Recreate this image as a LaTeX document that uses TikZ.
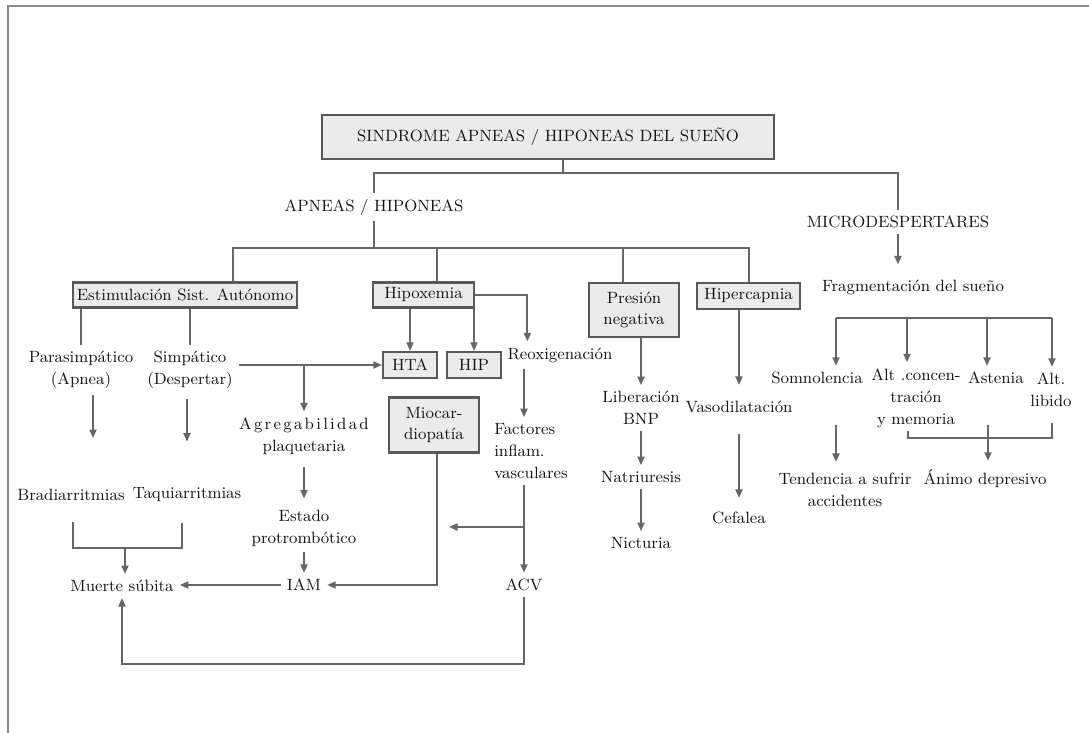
\documentclass[tikz,border=0pt]{standalone}
\usepackage{fontspec}
\usepackage{tikz}
\usetikzlibrary{calc,arrows.meta}

\begin{document}
\begin{tikzpicture}[x=0.02cm, y=-0.02cm,
	every node/.style={font=\fontsize{9.3}{12.5}\selectfont, text=black!92, align=center},
	box/.style={draw=black!65, fill=black!8, line width=1.3pt, inner sep=2pt},
	line/.style={draw=black!60, line width=1.1pt},
	arr/.style={line, -{Triangle[length=1.7mm,width=1.4mm]}}]
		%%%%% START %%%%%
		\useasboundingbox (0,0) rectangle (1089,733);
		\draw[black!45, line width=1.2pt] (8,733) -- (8,6) -- (1089,6);
		
		\node[box, minimum width=9.04cm, minimum height=0.88cm] (sahs) at (548,137) {SINDROME APNEAS / HIPONEAS DEL SUEÑO};
		\node (apneas) at (374,207) {APNEAS / HIPONEAS};
		\node (micro) at (898,222) {MICRODESPERTARES};
		
		\node[box, minimum width=4.48cm, minimum height=0.5cm] (estim) at (185,295) {Estimulación Sist. Autónomo};
		\node[box, minimum width=2.02cm, minimum height=0.5cm] (hipox) at (423.5,295) {Hipoxemia};
		\node[box, minimum width=1.8cm, minimum height=1.08cm] (presion) at (634,310) {Presión\\negativa};
		\node[box, minimum width=2.06cm, minimum height=0.52cm] (hiperc) at (748.5,296) {Hipercapnia};
		\node[box, minimum width=1.08cm, minimum height=0.52cm] (hta) at (410,365) {HTA};
		\node[box, minimum width=1.08cm, minimum height=0.52cm] (hip) at (474,365) {HIP};
		\node[box, minimum width=1.8cm, minimum height=1.1cm] (mioc) at (434,425) {Miocar-\\diopatía};
		
		\node (para) at (81,370) {Parasimpático\\(Apnea)};
		\node (simp) at (190,370) {Simpático\\(Despertar)};
		\node (bradi) at (71,495) {Bradiarritmias};
		\node (taqui) at (187,495) {Taquiarritmias};
		\node (muerte) at (122,586) {Muerte súbita};
		\node (agreg) at (304,436) {A\kern1.3pt g\kern1.3pt r\kern1.3pt e\kern1.3pt g\kern1.3pt a\kern1.3pt b\kern1.3pt i\kern1.3pt l\kern1.3pt i\kern1.3pt d\kern1.3pt a\kern1.3pt d\\plaquetaria};
		\node (estado) at (304,528) {Estado\\protrombótico};
		\node (iam) at (304,585) {IAM};
		\node (reox) at (560,355) {Reoxigenación};
		\node[align=left] (factores) at (531,451) {Factores\\inflam.\\vasculares};
		\node (acv) at (524,585) {ACV};
		
		\node (liber) at (641,408) {Liberación\\BNP};
		\node (natri) at (641,477) {Natriuresis};
		\node (nict) at (641,543) {Nicturia};
		\node (vaso) at (739,407) {Vasodilatación};
		\node (cefal) at (739,518) {Cefalea};
		
		\node (frag) at (913,287) {Fragmentación del sueño};
		\node (somno) at (817,378) {Somnolencia};
		\node (altc) at (916,398) {Alt .concen-\\tración\\y memoria};
		\node (asten) at (996,378) {Astenia};
		\node (altl) at (1051,390) {Alt.\\libido};
		\node (tend) at (845,490) {Tendencia a sufrir\\accidentes};
		\node (animo) at (985,479) {Ánimo depresivo};
		
		% top split
		\coordinate (jtop) at (563,173);
		\coordinate (jmic) at (898,173);
		\draw[line] (sahs.south -| jtop) -- (jtop);
		\draw[line] (apneas.north) |- (jmic) -- (micro.north);
		
		% apneas bar
		\coordinate (bl) at (233,248);
		\coordinate (bh) at (437,248);
		\coordinate (bp) at (623,248);
		\coordinate (br) at (749,248);
		\draw[line] (apneas.south) -- (apneas.south |- bl);
		\draw[line] (estim.north -| bl) -- (bl) -- (br) -- (hiperc.north -| br);
		\draw[line] (bh) -- (hipox.north -| bh);
		\draw[line] (bp) -- (presion.north -| bp);
		
		% autonomo
		\draw[line] (estim.south -| para) -- (para.north);
		\draw[line] (estim.south -| simp) -- (simp.north);
		\draw[arr] ($(para.south)+(12,0)$) -- ($(bradi.north)+(22,-45)$);
		\draw[arr] ($(simp.south)+(-3,4)$) -- ($(taqui.north)+(0,-40)$);
		\coordinate (bk) at (125,548);
		\draw[line] ($(bradi.south)+(2,15)$) |- (bk) -| ($(taqui.south)+(-5,15)$);
		\draw[arr] (bk) -- (muerte.north -| bk);
		\draw[arr] (simp.east |- hta.west) -- (hta.west);
		\draw[arr] (agreg.north |- hta.west) -- (agreg.north);
		\draw[arr] ($(agreg.south)+(0,6)$) -- ($(estado.north)+(0,-5)$);
		\draw[arr] (estado.south) -- (iam.north);
		\draw[arr] (iam.west) -- (iam.west -| muerte.east);
		
		% hipoxemia
		\draw[arr] (hipox.south -| hta) -- (hta.north);
		\draw[arr] (hipox.south -| hip) -- (hip.north);
		\draw[arr] (hipox.east) -| ($(reox.north west)+(26,0)$);
		\draw[arr] (reox.south -| acv) -- (factores.north -| acv);
		\draw[arr] (factores.south -| acv) -- (acv.north);
		\coordinate (jf) at (524,527);
		\coordinate (jm) at (449,527);
		\draw[arr] (jf) -- (jm);
		\draw[arr] ($(mioc.south)+(3,0)$) |- (iam.east);
		\coordinate (jb) at (300,664);
		\draw[arr] (acv.south) -- (acv.south |- jb) -| (muerte.south);
		
		% presion / hipercapnia
		\draw[arr] (presion.south -| liber) -- (liber.north);
		\draw[arr] (liber.south) -- (natri.north);
		\draw[arr] (natri.south) -- (nict.north);
		\draw[arr] (hiperc.south -| vaso) -- ($(vaso.north)+(0,-10)$);
		\draw[arr] ($(vaso.south)+(0,15)$) -- ($(cefal.north)+(0,-8)$);
		
		% microdespertares
		\draw[arr] (micro.south) -- ($(micro.south |- frag.north)+(0,-9)$);
		\draw[line] (836,318) -- (1052,318);
		\foreach \n/\x in {somno/836, altc/907, asten/987, altl/1052} {
			\coordinate (t) at (\x,318);
			\draw[arr] (t) -- (t |- \n.north);
		}
		\draw[arr] ($(somno.south)+(19,35)$) -- ($(tend.north)+(-9,-5)$);
		\coordinate (ab) at (988,438);
		\draw[line] ($(altc.south)+(-8,-3)$) |- (ab) -| ($(altl.south)+(1,10)$);
		\draw[arr] ($(asten.south)+(-8,35)$) -- ($(animo.north)+(3,-3)$);
		%%%%% END %%%%%
\end{tikzpicture}
\end{document}
